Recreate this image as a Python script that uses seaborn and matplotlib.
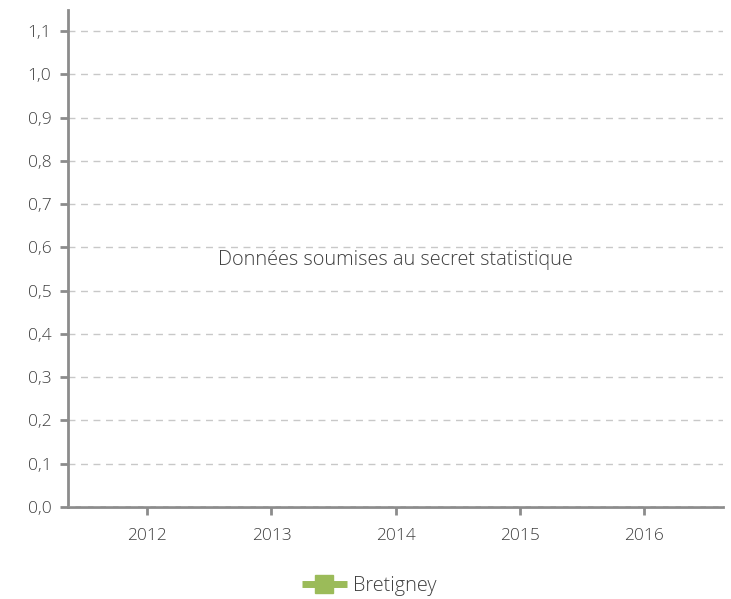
import numpy as np
import pandas as pd
import matplotlib
matplotlib.use("Agg")
import matplotlib.pyplot as plt
from matplotlib.lines import Line2D
import seaborn as sns

years = ["2012", "2013", "2014", "2015", "2016"]
bretigney = [np.nan, np.nan, np.nan, np.nan, np.nan]  # secret statistique
y_ticks = [0.0, 0.1, 0.2, 0.3, 0.4, 0.5, 0.6, 0.7, 0.8, 0.9, 1.0, 1.1]

GREEN = "#9BBB59"
AXIS = "#8C8C8C"
TEXT = "#404040"

sns.set_style("white")
plt.rcParams["font.family"] = ["Open Sans", "DejaVu Sans"]
plt.rcParams["font.weight"] = "light"

fig = plt.figure(figsize=(7.31, 5.99), dpi=100)
ax = fig.add_axes([68 / 731, (599 - 507) / 599, (723 - 68) / 731, (507 - 10) / 599])

df = pd.DataFrame({"pos": range(len(years)), "val": bretigney})
sns.lineplot(data=df, x="pos", y="val", ax=ax, color=GREEN, marker="s", legend=False)

ax.set_xlim(-0.64, len(years) - 1 + 0.64)
ax.set_ylim(0, 1.149)
ax.set_xticks(range(len(years)))
ax.set_xticklabels(years)
ax.set_yticks(y_ticks)
ax.set_yticklabels([f"{v:.1f}".replace(".", ",") for v in y_ticks])
ax.set_xlabel("")
ax.set_ylabel("")

for v in y_ticks:
    ax.axhline(v, color="#C8C8C8", lw=1, ls=(0, (5, 4)), zorder=3 if v == 0 else 0)

for s in ["top", "right"]:
    ax.spines[s].set_visible(False)
for s in ["left", "bottom"]:
    ax.spines[s].set_color(AXIS)
    ax.spines[s].set_linewidth(2)
    ax.spines[s].set_zorder(2)

ax.tick_params(axis="y", length=6, width=2, color=AXIS, labelcolor=TEXT, labelsize=12.5, pad=6, left=True)
ax.tick_params(axis="x", length=6, width=2, color=AXIS, labelcolor=TEXT, labelsize=12.5, pad=9, bottom=True)

ax.text(2, 0.6 - 0.006, "Données soumises au secret statistique",
        ha="center", va="top", fontsize=14.3, color=TEXT)

handle = Line2D([], [], color=GREEN, lw=5, marker="s", markersize=13, solid_capstyle="butt")
fig.legend([handle], ["Bretigney"], loc="center", bbox_to_anchor=(0.505, 0.022), frameon=False,
           fontsize=14.3, labelcolor=TEXT, handlelength=2.3, handletextpad=0.3)

fig.savefig("out.png", dpi=100)
